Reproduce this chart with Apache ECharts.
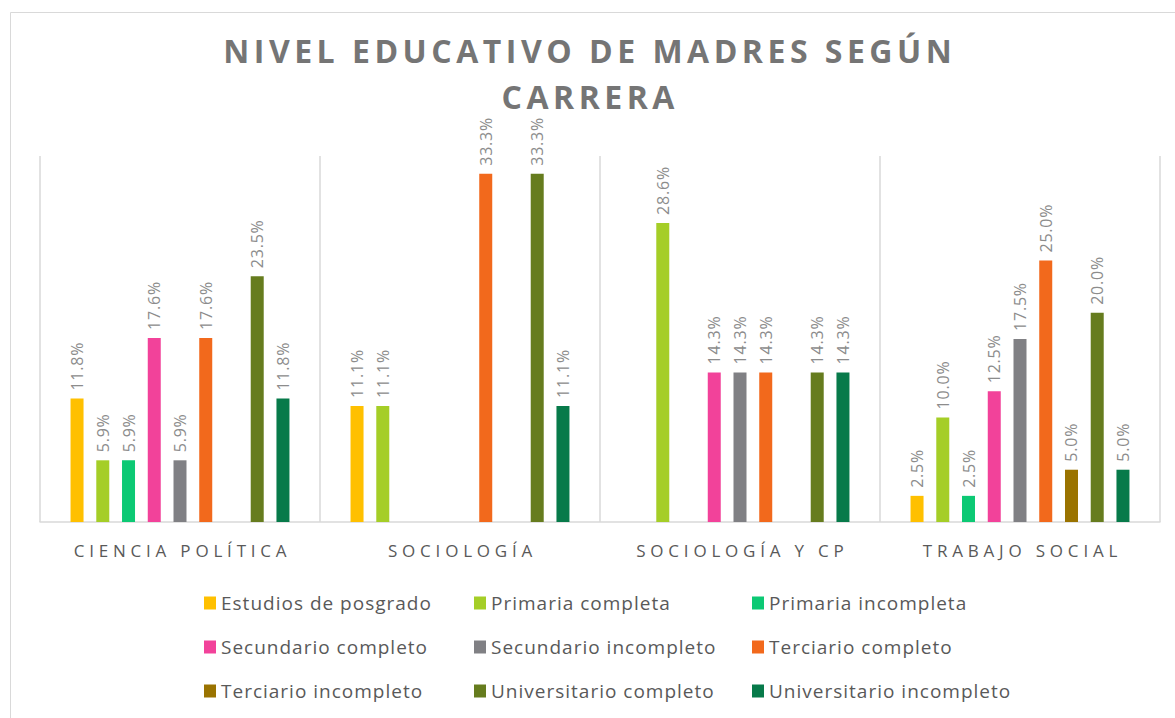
<!DOCTYPE html>
<html><head><meta charset="utf-8">
<script src="https://cdn.jsdelivr.net/npm/echarts@6/dist/echarts.min.js"></script>
<style>html,body{margin:0;padding:0;background:#fff}#c{width:1175px;height:718px}</style>
</head><body><div id="c"></div>
<script>
const categories = ['CIENCIA POLÍTICA', 'SOCIOLOGÍA', 'SOCIOLOGÍA Y CP', 'TRABAJO SOCIAL'];
const seriesNames = ['Estudios de posgrado','Primaria completa','Primaria incompleta','Secundario completo','Secundario incompleto','Terciario completo','Terciario incompleto','Universitario completo','Universitario incompleto'];
const colors = ['#FFC000','#A5CE27','#0CC974','#F2429A','#808084','#F2691C','#9A7300','#667C1E','#077A4A'];
const posgrado = [11.8, 11.1, null, 2.5];
const primariaCompleta = [5.9, 11.1, 28.6, 10.0];
const primariaIncompleta = [5.9, null, null, 2.5];
const secundarioCompleto = [17.6, null, 14.3, 12.5];
const secundarioIncompleto = [5.9, null, 14.3, 17.5];
const terciarioCompleto = [17.6, 33.3, 14.3, 25.0];
const terciarioIncompleto = [null, null, null, 5.0];
const universitarioCompleto = [23.5, 33.3, 14.3, 20.0];
const universitarioIncompleto = [11.8, 11.1, 14.3, 5.0];
const values = [posgrado, primariaCompleta, primariaIncompleta, secundarioCompleto, secundarioIncompleto, terciarioCompleto, terciarioIncompleto, universitarioCompleto, universitarioIncompleto];
const titleLines = ['NIVEL EDUCATIVO DE MADRES SEGÚN', 'CARRERA'];

const FONT = '"Open Sans", sans-serif';
const chart = echarts.init(document.getElementById('c'), null, { renderer: 'svg' });
const series = seriesNames.map((n, i) => ({
  name: n, type: 'bar', data: values[i], barWidth: 13, barGap: '98%', barCategoryGap: '21.6%',
  itemStyle: { color: colors[i] },
  label: { show: true, position: 'top', rotate: 90, align: 'left', verticalAlign: 'middle', distance: 8,
    color: '#8C8C8C', fontSize: 16, fontFamily: FONT,
    formatter: p => p.value == null ? '' : p.value.toFixed(1) + '%' }
}));
const legendCommon = { orient: 'vertical', top: 588, itemWidth: 12, itemHeight: 13, itemGap: 24,
  icon: 'rect', textStyle: { fontSize: 19, color: '#595959', fontFamily: FONT, lineHeight: 20 } };
chart.setOption({
  animation: false,
  graphic: [{ type: 'rect', shape: { x: 10.5, y: 12.5, width: 1175, height: 720 }, style: { fill: 'none', stroke: '#D9D9D9', lineWidth: 1 }, z: -1 }],
  title: { text: titleLines.join('\n'), left: 'center', top: 22,
    textStyle: { fontSize: 32, fontWeight: 'bold', color: '#757575', fontFamily: FONT, lineHeight: 46 } },
  legend: [
    Object.assign({ left: 199, data: [seriesNames[0], seriesNames[3], seriesNames[6]] }, legendCommon),
    Object.assign({ left: 469, data: [seriesNames[1], seriesNames[4], seriesNames[7]] }, legendCommon),
    Object.assign({ left: 747, data: [seriesNames[2], seriesNames[5], seriesNames[8]] }, legendCommon)
  ],
  grid: { left: 40, right: 15, top: 156, bottom: 196 },
  xAxis: { type: 'category', data: categories,
    axisLine: { lineStyle: { color: '#D9D9D9', width: 1.5 } }, axisTick: { show: false },
    splitLine: { show: true, lineStyle: { color: '#D9D9D9', width: 1.5 } },
    axisLabel: { color: '#595959', fontSize: 17, fontFamily: FONT, margin: 20 } },
  yAxis: { type: 'value', min: 0, max: 35, show: false, splitLine: { show: false } },
  series
});

// letter spacing (as in the original typography), keeping centred texts centred
function space(el, px, recenter) {
  let b0 = el.getBBox();
  el.setAttribute('letter-spacing', px + 'px');
  if (recenter) {
    let b1 = el.getBBox();
    let dx = (b0.x + b0.width / 2) - (b1.x + b1.width / 2) + px / 2;
    el.setAttribute('dx', dx);
  }
}
document.querySelectorAll('#c svg text').forEach(el => {
  const t = el.textContent;
  if (titleLines.includes(t)) space(el, 4.5, true);
  else if (categories.includes(t)) space(el, 4.8, true);
  else if (seriesNames.includes(t)) space(el, 1, false);
  else if (/%$/.test(t)) space(el, 0.8, false);
});
</script></body></html>
